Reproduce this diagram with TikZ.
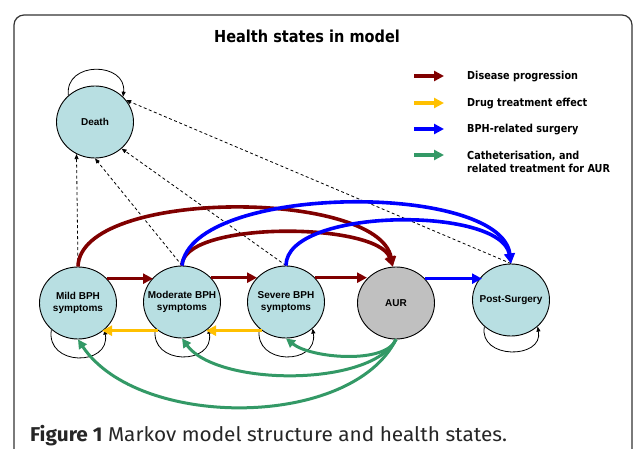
\documentclass[tikz,border=0pt]{standalone}
\usepackage{fontspec}
\setmainfont{Liberation Sans}
\newfontfamily\keyfont{DejaVu Sans}[FakeStretch=0.88]
\newfontfamily\capfont{Fira Sans}[FakeStretch=1.04]
\usetikzlibrary{arrows.meta,shapes.geometric}

\definecolor{progred}{RGB}{128,0,0}
\definecolor{drugyellow}{RGB}{255,192,0}
\definecolor{surgblue}{RGB}{0,0,255}
\definecolor{cathgreen}{RGB}{51,153,102}
\definecolor{statefill}{RGB}{184,223,226}
\definecolor{aurfill}{RGB}{192,192,192}

\begin{document}
\begin{tikzpicture}[x=1pt,y=-1pt,
    hstate/.style={ellipse, draw, line width=0.9pt, fill=statefill, minimum width=77pt, minimum height=72pt, inner xsep=-10pt, inner ysep=0pt, align=center, font=\fontsize{10}{12}\selectfont\bfseries},
    flow/.style={line width=3.6pt, -{Triangle[length=10pt,width=10pt]}},
    cath/.style={flow, cathgreen, line width=3pt, -{Triangle[length=9pt,width=9pt]}},
    todeath/.style={line width=0.8pt, dash pattern=on 3pt off 2.5pt, -{Triangle[length=5pt,width=4pt]}},
    stay/.style={line width=0.8pt, -{Triangle[length=5pt,width=4pt]}},
    key/.style={font=\keyfont\fontsize{11}{13}\selectfont\bfseries, inner sep=0pt}]
    \useasboundingbox (0,0) rectangle (633,449);
    \clip (0,0) rectangle (633,449);
    \draw[black!80, line width=1.2pt, rounded corners=10pt] (14,480) -- (14,15) -- (632,15) -- (632,480);

    \node (title) at (307,36) [font=\keyfont\fontsize{16.5}{20}\selectfont\bfseries] {Health states in model};

    \node (death) at (95,122) [hstate] {Death};
    \node (mild) at (78,303) [hstate] {Mild BPH\\symptoms};
    \node (moderate) at (182,302) [hstate] {Moderate BPH\\symptoms};
    \node (severe) at (286,302) [hstate] {Severe BPH\\symptoms};
    \node (aur) at (396,303) [hstate, fill=aurfill] {AUR};
    \node (post) at (511,300) [hstate] {Post-Surgery};

    \draw[todeath] (mild.north) -- (death.240);
    \draw[todeath] (moderate.north) -- (death.south);
    \draw[todeath] (severe.north) -- (death.-45);
    \draw[todeath] (post.north) -- (death.35);

    \draw[stay] (death.135) .. controls +(-4,-35) and +(4,-35) .. (death.42);
    \draw[stay] (mild.225) .. controls +(-6,37) and +(6,37) .. (mild.-45);
    \draw[stay] (moderate.225) .. controls +(-6,37) and +(6,37) .. (moderate.-45);
    \draw[stay] (severe.225) .. controls +(-6,37) and +(6,37) .. (severe.-45);
    \draw[stay] (post.225) .. controls +(-6,33) and +(6,33) .. (post.-45);

    \draw[flow, progred] (mild.40) -- (mild.40 -| moderate.140);
    \draw[flow, progred] (moderate.40) -- (moderate.40 -| severe.140);
    \draw[flow, progred] (severe.40) -- (severe.40 -| aur.140);
    \draw[flow, progred] (mild.north) .. controls +(2,-78) and +(-15,-78) .. (aur.95);
    \draw[flow, progred] (moderate.north) .. controls +(0,-45) and +(-15,-45) .. (aur.95);

    \draw[flow, surgblue] (aur.40) -- (aur.40 -| post.140);
    \draw[flow, surgblue] (moderate.north) .. controls +(10,-82) and +(-10,-82) .. (post.north);
    \draw[flow, surgblue] (severe.north) .. controls +(0,-58) and +(-10,-58) .. (post.north);

    \draw[flow, drugyellow] (moderate.230) -- (moderate.230 -| mild.-50);
    \draw[flow, drugyellow] (severe.230) -- (severe.230 -| moderate.-50);

    \draw[cath] (aur.south) .. controls +(-10,25) and +(25,20) .. (severe.south);
    \draw[cath] (aur.south) .. controls +(-25,48) and +(35,48) .. (moderate.south);
    \draw[cath] (aur.south) .. controls +(-45,90) and +(60,90) .. (mild.south);

    \coordinate (kp1) at (414,76); \coordinate (kp2) at (444,76);
    \coordinate (kd1) at (414,103); \coordinate (kd2) at (444,103);
    \coordinate (ks1) at (414,129); \coordinate (ks2) at (444,129);
    \coordinate (kc1) at (414,155); \coordinate (kc2) at (444,155);
    \draw[flow, progred] (kp1) -- (kp2);
    \draw[flow, drugyellow] (kd1) -- (kd2);
    \draw[flow, surgblue] (ks1) -- (ks2);
    \draw[flow, cathgreen] (kc1) -- (kc2);
    \node (kprog) at (467,80) [key, anchor=base west] {Disease progression};
    \node (kdrug) at (467,107) [key, anchor=base west] {Drug treatment effect};
    \node (ksurg) at (467,133) [key, anchor=base west] {BPH-related surgery};
    \node (kcath) at (467,162) [key, anchor=west, align=left] {Catheterisation, and\\related treatment for AUR};

    \node (caption) at (30,442) [anchor=base west, inner sep=0pt, text=black!85, font=\capfont\fontsize{20}{24}\selectfont] {\textbf{Figure 1} Markov model structure and health states.};
\end{tikzpicture}
\end{document}
